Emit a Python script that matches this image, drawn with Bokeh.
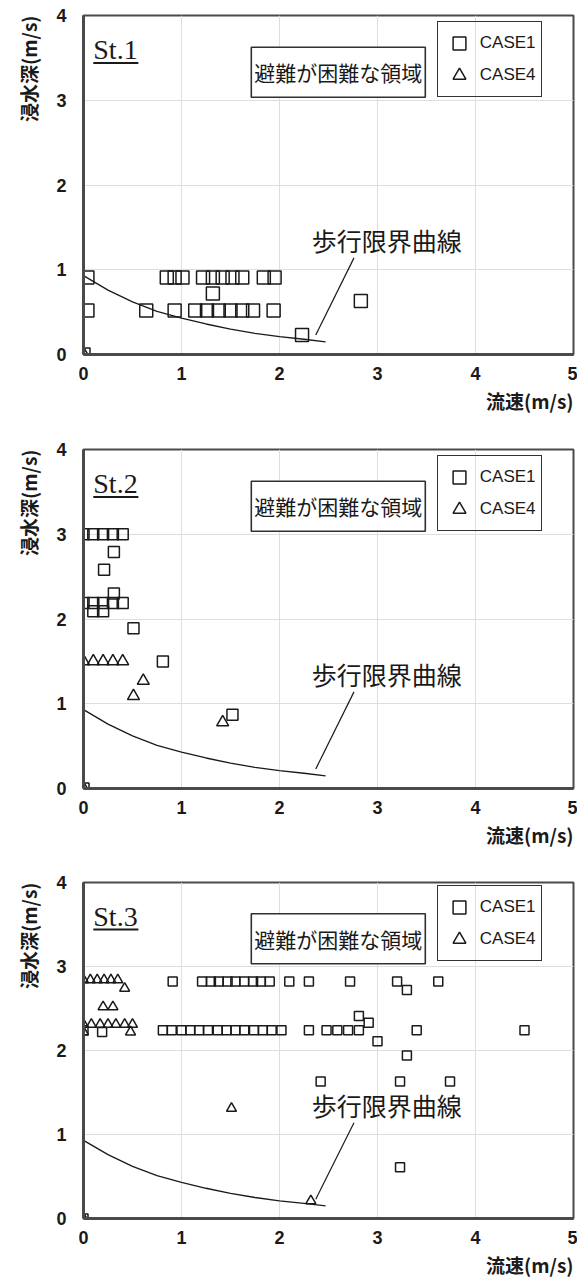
import math
from bokeh.plotting import figure
from bokeh.models import Range1d, Label, Arrow, Legend, LegendItem, FixedTicker, Title
from bokeh.layouts import column
from bokeh.embed import file_html
from bokeh.resources import INLINE

# ---------------- data ----------------
x_ticks = [0, 1, 2, 3, 4, 5]
y_ticks = [0, 1, 2, 3, 4]
station_names = ["St.1", "St.2", "St.3"]
legend_labels = ["CASE1", "CASE4"]
region_text = "避難が困難な領域"
curve_text = "歩行限界曲線"
x_title = "流速(m/s)"
y_title = "浸水深(m/s)"

# walking-limit curve
curve_v = [0.0, 0.25, 0.5, 0.75, 1.0, 1.25, 1.5, 1.75, 2.0, 2.25, 2.47]
curve_h = [0.93, 0.76, 0.62, 0.51, 0.43, 0.36, 0.30, 0.25, 0.21, 0.18, 0.15]

# St.1
st1_case1_v = [0.0, 0.04, 0.04,
               0.85, 0.93, 1.01, 1.22, 1.32, 1.42, 1.52, 1.62, 1.84, 1.95,
               1.32,
               0.64, 0.93, 1.14, 1.26, 1.38, 1.50, 1.62, 1.73, 1.94,
               2.23, 2.83]
st1_case1_h = [0.0, 0.91, 0.52,
               0.91, 0.91, 0.91, 0.91, 0.91, 0.91, 0.91, 0.91, 0.91, 0.91,
               0.72,
               0.52, 0.52, 0.52, 0.52, 0.52, 0.52, 0.52, 0.52, 0.52,
               0.23, 0.63]
st1_case4_v = [0.0]
st1_case4_h = [0.0]

# St.2
st2_case1_v = [0.0, 0.1, 0.2, 0.3, 0.4,
               0.31, 0.21,
               0.0, 0.1, 0.2, 0.3, 0.4,
               0.31, 0.1, 0.2,
               0.51, 0.81, 1.52, 0.0]
st2_case1_h = [3.0, 3.0, 3.0, 3.0, 3.0,
               2.79, 2.58,
               2.19, 2.19, 2.19, 2.19, 2.19,
               2.30, 2.09, 2.09,
               1.89, 1.50, 0.87, 0.0]
st2_case4_v = [0.0, 0.1, 0.2, 0.3, 0.4, 0.61, 0.51, 1.42, 0.0]
st2_case4_h = [1.5, 1.5, 1.5, 1.5, 1.5, 1.27, 1.09, 0.78, 0.0]

# St.3
st3_case1_v = [0.91, 1.21, 1.30, 1.38, 1.47, 1.55, 1.64, 1.73, 1.81, 1.90,
               2.10, 2.30, 2.72, 3.20, 3.62, 3.30,
               0.81, 0.90, 1.00, 1.09, 1.18, 1.27, 1.37, 1.46, 1.55, 1.64,
               1.74, 1.83, 1.92, 2.02,
               2.30, 2.48, 2.59, 2.70, 2.81, 3.40, 4.50,
               2.81, 2.91, 3.00, 3.30, 2.42, 3.23, 3.74, 3.23,
               0.0, 0.19, 0.0]
st3_case1_h = [2.82, 2.82, 2.82, 2.82, 2.82, 2.82, 2.82, 2.82, 2.82, 2.82,
               2.82, 2.82, 2.82, 2.82, 2.82, 2.72,
               2.24, 2.24, 2.24, 2.24, 2.24, 2.24, 2.24, 2.24, 2.24, 2.24,
               2.24, 2.24, 2.24, 2.24,
               2.24, 2.24, 2.24, 2.24, 2.24, 2.24, 2.24,
               2.41, 2.33, 2.11, 1.94, 1.63, 1.63, 1.63, 0.61,
               2.24, 2.22, 0.0]
st3_case4_v = [0.0, 0.07, 0.14, 0.21, 0.28, 0.35, 0.42,
               0.2, 0.3,
               0.0, 0.08, 0.17, 0.25, 0.33, 0.42, 0.5,
               0.0, 0.48,
               1.51, 2.32, 0.0]
st3_case4_h = [2.84, 2.84, 2.84, 2.84, 2.84, 2.84, 2.74,
               2.52, 2.52,
               2.31, 2.31, 2.31, 2.31, 2.31, 2.31, 2.31,
               2.22, 2.22,
               1.31, 0.21, 0.0]

panels = [
    (station_names[0], st1_case1_v, st1_case1_h, st1_case4_v, st1_case4_h, 13, 13),
    (station_names[1], st2_case1_v, st2_case1_h, st2_case4_v, st2_case4_h, 11, 12),
    (station_names[2], st3_case1_v, st3_case1_h, st3_case4_v, st3_case4_h, 9, 10),
]

# ---------------- styling / layout ----------------
FIG_W = 577
LEFT, RIGHT, TOP = 83, 4, 15
BOTTOMS = [80, 79, 58]
FRAME_H = 339
PX_PER_Y = FRAME_H / 4.0
FRAME_W = FIG_W - LEFT - RIGHT
PX_PER_X = FRAME_W / 5.0

TICK_FONT = "'Liberation Sans Narrow', 'Arial Narrow', 'Liberation Sans', sans-serif"
CJK_FONT = "Noto Sans CJK JP"
SERIF = "Liberation Serif"
INK = "#1a1a1a"


def make_panel(name, c1v, c1h, c4v, c4h, sq, tri, bottom):
    p = figure(width=FIG_W, height=TOP + FRAME_H + bottom,
               x_range=Range1d(0, 5), y_range=Range1d(0, 4),
               output_backend="svg", toolbar_location=None,
               min_border_left=LEFT, min_border_right=RIGHT,
               min_border_top=TOP, min_border_bottom=bottom)
    p.background_fill_color = "white"
    p.border_fill_color = "white"
    p.outline_line_color = "#4a4a4a"
    p.outline_line_width = 2
    p.xaxis.ticker = FixedTicker(ticks=x_ticks)
    p.yaxis.ticker = FixedTicker(ticks=y_ticks)
    p.xgrid.ticker = FixedTicker(ticks=x_ticks)
    p.ygrid.ticker = FixedTicker(ticks=y_ticks)
    p.grid.grid_line_color = "#dedede"
    p.grid.grid_line_width = 1
    for ax in (p.xaxis, p.yaxis):
        ax.axis_line_color = "#4a4a4a"
        ax.axis_line_width = 3
        ax.major_tick_line_color = None
        ax.minor_tick_line_color = None
        ax.major_tick_out = 0
        ax.major_tick_in = 0
        ax.major_label_text_font = TICK_FONT
        ax.major_label_text_font_style = "bold"
        ax.major_label_text_font_size = "18px"
        ax.major_label_text_color = INK
    p.xaxis.major_label_standoff = 12
    p.yaxis.major_label_standoff = 17

    # axis titles (Titles live in the side panels, so they are not clipped)
    p.add_layout(Title(text=y_title, align="right", text_font=CJK_FONT,
                       text_font_size="19px", text_font_style="bold",
                       text_color=INK, standoff=23), "left")
    p.add_layout(Title(text=x_title, align="right", text_font=CJK_FONT,
                       text_font_size="19px", text_font_style="bold",
                       text_color=INK, standoff=4), "below")

    # walking limit curve
    p.line(curve_v, curve_h, line_color=INK, line_width=1.3)

    r1 = p.scatter(c1v, c1h, marker="square", size=sq, fill_color=None,
                   line_color=INK, line_width=1.5)
    r4 = p.scatter(c4v, c4h, marker="triangle", size=tri, fill_color=None,
                   line_color=INK, line_width=1.5)

    leg = Legend(items=[LegendItem(label=legend_labels[0], renderers=[r1]),
                        LegendItem(label=legend_labels[1], renderers=[r4])],
                 location=(3.61 * PX_PER_X, 3.03 * PX_PER_Y))
    leg.label_text_font = "Liberation Sans"
    leg.label_text_font_size = "17px"
    leg.label_text_color = INK
    leg.glyph_width = 32
    leg.glyph_height = 32
    leg.label_standoff = 5
    leg.padding = 5
    leg.spacing = 0
    leg.margin = 0
    leg.border_line_color = "#333333"
    leg.border_line_alpha = 1.0
    leg.border_line_width = 1.8
    leg.background_fill_alpha = 0
    p.add_layout(leg)

    # station name, underlined
    p.add_layout(Label(x=0.1, y=3.6, text=name, text_font=SERIF,
                       text_font_size="28px", text_color=INK,
                       text_baseline="middle", text_align="left"))
    p.add_layout(Arrow(end=None, x_start=0.1, y_start=3.44, x_end=0.56, y_end=3.44,
                       line_color=INK, line_width=2))

    # region box
    p.add_layout(Label(x=2.6, y=3.33, text=region_text, text_font=CJK_FONT,
                       text_font_size="21px", text_color=INK,
                       text_align="center", text_baseline="middle",
                       padding=(3, 10), border_line_color="#303030",
                       border_line_width=1.6, background_fill_color="white"))

    # curve annotation
    p.add_layout(Label(x=2.33, y=1.35, text=curve_text, text_font=CJK_FONT,
                       text_font_size="25px", text_color=INK,
                       text_align="left", text_baseline="middle"))
    p.add_layout(Arrow(end=None, x_start=2.37, y_start=0.23, x_end=2.76, y_end=1.14,
                       line_color=INK, line_width=1.2))
    return p


figs = [make_panel(n, a, b, c, d, s, t, BOTTOMS[i])
        for i, (n, a, b, c, d, s, t) in enumerate(panels)]
layout = column(*figs, spacing=0)

open("out.html", "w").write(file_html(layout, INLINE))
